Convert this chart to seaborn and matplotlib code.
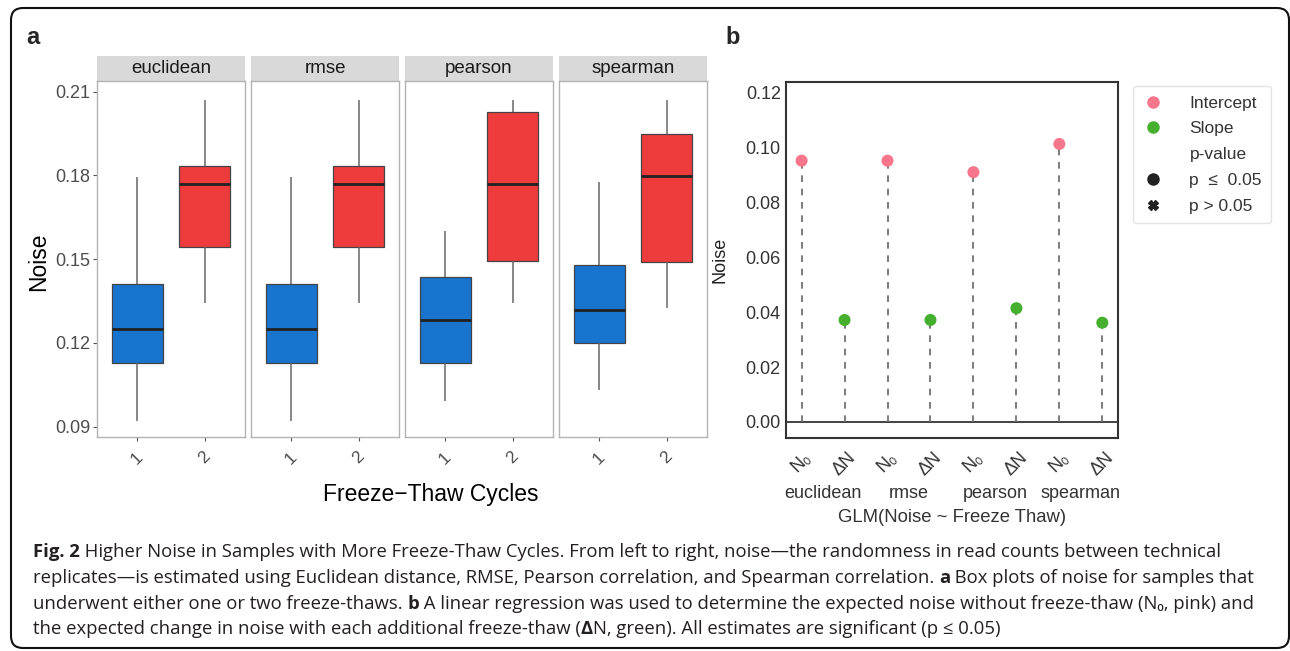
import numpy as np
import pandas as pd
import matplotlib
matplotlib.use('Agg')
import matplotlib.pyplot as plt
import seaborn as sns
from matplotlib.patches import FancyBboxPatch, Rectangle
from matplotlib.lines import Line2D

# ---- data ----
metrics = ['euclidean', 'rmse', 'pearson', 'spearman']
cycles = ['1', '2']

# five values per box: min, q1, median, q3, max
noise_cycle1 = {
    'euclidean': [0.0921, 0.1128, 0.1250, 0.1411, 0.1794],
    'rmse':      [0.0921, 0.1128, 0.1250, 0.1411, 0.1794],
    'pearson':   [0.0992, 0.1128, 0.1283, 0.1437, 0.1599],
    'spearman':  [0.1030, 0.1201, 0.1317, 0.1479, 0.1775],
}
noise_cycle2 = {
    'euclidean': [0.1343, 0.1543, 0.1770, 0.1835, 0.2070],
    'rmse':      [0.1343, 0.1543, 0.1770, 0.1835, 0.2070],
    'pearson':   [0.1343, 0.1495, 0.1769, 0.2028, 0.2069],
    'spearman':  [0.1324, 0.1491, 0.1798, 0.1947, 0.2069],
}

glm_terms = ['N\u2080', '\u0394N']
intercepts = [0.0953, 0.0953, 0.0911, 0.1014]
slopes = [0.0372, 0.0372, 0.0415, 0.0362]
p_labels = ['p \u2264 0.05', 'p > 0.05']

caption = [
    [('Fig. 2', 'bold'), (' Higher Noise in Samples with More Freeze-Thaw Cycles. From left to right, noise\u2014the randomness in read counts between technical', 'normal')],
    [('replicates\u2014is estimated using Euclidean distance, RMSE, Pearson correlation, and Spearman correlation. ', 'normal'), ('a', 'bold'), (' Box plots of noise for samples that', 'normal')],
    [('underwent either one or two freeze-thaws. ', 'normal'), ('b', 'bold'), (' A linear regression was used to determine the expected noise without freeze-thaw (N\u2080, pink) and', 'normal')],
    [('the expected change in noise with each additional freeze-thaw (', 'normal'), ('\u0394', 'bold'), ('N, green). All estimates are significant (p \u2264 0.05)', 'normal')],
]

blue = '#1874CD'
red = '#EE3B3B'
pink = '#F7768B'
green = '#45B02E'

W, H = 1290, 651
sns.set_style('white')
plt.rcParams['font.family'] = ['Liberation Sans', 'DejaVu Sans']

fig = plt.figure(figsize=(W / 100, H / 100), dpi=100)


def fx(px):
    return px / W


def fy(py):
    return 1 - py / H


# ---- panel a: box plots faceted by metric ----
rows = []
for m in metrics:
    for v in noise_cycle1[m]:
        rows.append((m, '1', v))
    for v in noise_cycle2[m]:
        rows.append((m, '2', v))
df_a = pd.DataFrame(rows, columns=['metric', 'cycle', 'noise'])

top_a, bot_a = 81, 436.7
for i, m in enumerate(metrics):
    left = 97 + i * 154
    ax = fig.add_axes([fx(left), fy(bot_a), fx(148), (bot_a - top_a) / H])
    sns.boxplot(data=df_a[df_a.metric == m], x='cycle', y='noise', hue='cycle',
                order=cycles, hue_order=cycles, palette=[blue, red], saturation=1,
                width=0.75, whis=(0, 100), showcaps=False, legend=False,
                linecolor='#444444', linewidth=0.9,
                medianprops={'color': '#222222', 'linewidth': 2},
                whiskerprops={'color': '#666666', 'linewidth': 1.1},
                ax=ax)
    ax.set_xlim(-0.6, 1.6)
    ax.set_ylim(0.0864, 0.2138)
    ax.set_xlabel('')
    ax.set_ylabel('')
    for s in ax.spines.values():
        s.set_color('#B3B3B3')
        s.set_linewidth(1.0)
    ax.set_yticks([0.09, 0.12, 0.15, 0.18, 0.21])
    if i == 0:
        ax.set_yticklabels(['0.09', '0.12', '0.15', '0.18', '0.21'])
        ax.tick_params(axis='y', left=True, length=3, width=0.8, color='#555555',
                       labelsize=13, labelcolor='#4D4D4D', pad=2)
    else:
        ax.tick_params(axis='y', left=False, labelleft=False)
    ax.tick_params(axis='x', bottom=True, length=3, width=0.8, color='#555555',
                   labelsize=12.5, labelcolor='#4D4D4D', pad=6)
    for t in ax.get_xticklabels():
        t.set_rotation(45)
    strip = Rectangle((0, 1), 1, 25 / (bot_a - top_a), transform=ax.transAxes,
                      facecolor='#D9D9D9', edgecolor='none', clip_on=False)
    ax.add_patch(strip)
    ax.text(0.5, 1 + 12.5 / (bot_a - top_a), m, transform=ax.transAxes,
            ha='center', va='center', fontsize=13.5, color='#1A1A1A')

fig.text(fx(431), fy(495), 'Freeze\u2212Thaw Cycles', ha='center', va='center',
         fontsize=16.5, color='black')
fig.text(fx(39), fy(262), 'Noise', rotation=90, ha='center', va='center',
         fontsize=16.5, color='black')

# ---- panel b: GLM estimates ----
keys, term_col, vals = [], [], []
for j, m in enumerate(metrics):
    keys += [m + ' N0', m + ' dN']
    term_col += ['Intercept', 'Slope']
    vals += [intercepts[j], slopes[j]]
df_b = pd.DataFrame({'key': keys, 'term': term_col, 'estimate': vals,
                     'p-value': [p_labels[0]] * len(keys)})
df_b['p-value'] = pd.Categorical(df_b['p-value'], categories=p_labels)
xpos = np.arange(len(df_b))

axb = fig.add_axes([fx(785.7), fy(438), fx(1118 - 785.7), (438 - 81.7) / H])
axb.axhline(0, color='#222222', lw=1.2, zorder=1)
axb.vlines(xpos, 0, df_b['estimate'], colors='#666666', linestyles=(0, (4, 4)),
           lw=1.2, zorder=1)
sns.scatterplot(data=df_b, x=xpos, y='estimate', hue='term',
                palette={'Intercept': pink, 'Slope': green},
                style='p-value', markers={p_labels[0]: 'o', p_labels[1]: 'X'},
                s=75, edgecolor='none', legend=False, zorder=3, ax=axb)
axb.set_xlim(-0.37, len(df_b) - 1 + 0.365)
axb.set_ylim(-0.00584, 0.1241)
axb.set_yticks([0, 0.02, 0.04, 0.06, 0.08, 0.10, 0.12])
axb.set_yticklabels(['0.00', '0.02', '0.04', '0.06', '0.08', '0.10', '0.12'])
axb.set_xticks(xpos)
axb.set_xticklabels(glm_terms * len(metrics), rotation=45, ha='center', va='top')
axb.tick_params(axis='both', length=0, labelsize=13, labelcolor='#333333')
axb.tick_params(axis='x', pad=8)
axb.set_xlabel('')
axb.set_ylabel('')
for s in axb.spines.values():
    s.set_color('#333333')
    s.set_linewidth(1.5)
for j, m in enumerate(metrics):
    axb.annotate(m, xy=(2 * j + 0.5, 0), xycoords=('data', 'axes fraction'),
                 xytext=(0, -55), textcoords='offset pixels',
                 ha='center', va='center', fontsize=13, color='#333333')
fig.text(fx(952), fy(517), 'GLM(Noise ~ Freeze Thaw)', ha='center', va='center',
         fontsize=13.3, color='#333333')
fig.text(fx(720), fy(260), 'Noise', rotation=90, ha='center', va='center',
         fontsize=13, color='#222222')

handles = [
    Line2D([], [], marker='o', ls='', color=pink, markersize=8),
    Line2D([], [], marker='o', ls='', color=green, markersize=8),
    Line2D([], [], marker='', ls=''),
    Line2D([], [], marker='o', ls='', color='#222222', markersize=8),
    Line2D([], [], marker='X', ls='', color='#222222', markersize=7),
]
leg = axb.legend(handles, ['Intercept', 'Slope', 'p-value', 'p  \u2264  0.05', p_labels[1]],
                 loc='upper left', bbox_to_anchor=(fx(1133), fy(86)),
                 bbox_transform=fig.transFigure, borderaxespad=0,
                 fontsize=12.5, labelspacing=0.61, handletextpad=1.5,
                 handlelength=1.2, borderpad=0.55, frameon=True, fancybox=True)
leg.get_frame().set_edgecolor('#DDDDDD')
leg.get_frame().set_linewidth(1.0)
for t in leg.get_texts():
    t.set_color('#333333')

# ---- panel letters ----
fig.text(fx(33), fy(38), 'a', ha='center', va='center', fontsize=17, fontweight='bold')
fig.text(fx(733), fy(38), 'b', ha='center', va='center', fontsize=17, fontweight='bold')

# ---- caption ----
renderer = fig.canvas.get_renderer()
cap_font = ['Open Sans', 'DejaVu Sans']
for k, parts in enumerate(caption):
    x = 33
    y = 552 + k * 25.8
    for s, w in parts:
        t = fig.text(fx(x), fy(y), s, ha='left', va='center', fontsize=13.3,
                     fontweight=w, family=cap_font, color='#231F20')
        x += t.get_window_extent(renderer).width

# ---- outer frame ----
frame = FancyBboxPatch((0.11, 0.03), 12.78, 6.40, boxstyle='round,pad=0,rounding_size=0.12',
                       transform=fig.dpi_scale_trans, facecolor='none',
                       edgecolor='#111111', linewidth=1.5)
fig.patches.append(frame)

fig.savefig('out.png', dpi=100)
